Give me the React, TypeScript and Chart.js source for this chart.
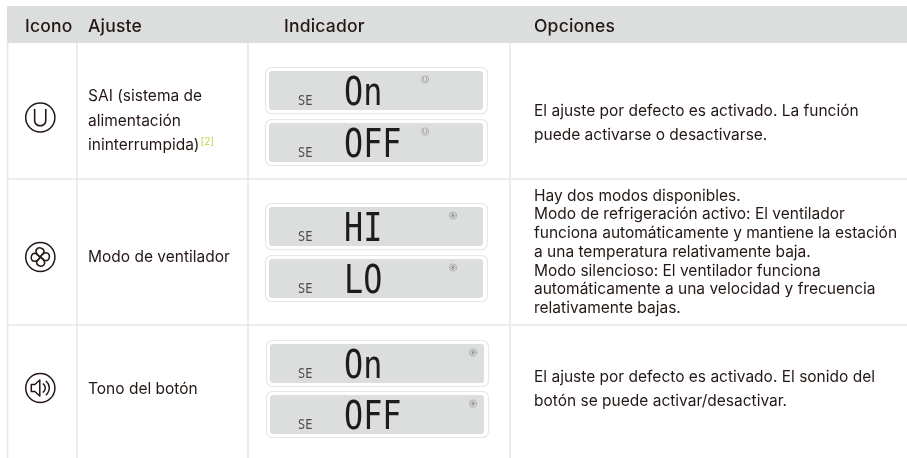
import React, { useEffect, useRef } from "react";
import { Chart, registerables } from "chart.js";

Chart.register(...registerables);

const headers = ["Icono", "Ajuste", "Indicador", "Opciones"];
const settingLines = [
  ["SAI (sistema de", "alimentación", "ininterrumpida)"],
  ["Modo de ventilador"],
  ["Tono del botón"],
];
const footnote = "[2]";
const iconKinds = ["ups", "fan", "sound"];
const displayValues = [
  ["On", "OFF"],
  ["HI", "LO"],
  ["On", "OFF"],
];
const displayPrefix = "SE";
const optionLines = [
  ["El ajuste por defecto es activado. La función", "puede activarse o desactivarse."],
  [
    "Hay dos modos disponibles.",
    "Modo de refrigeración activo: El ventilador",
    "funciona automáticamente y mantiene la estación",
    "a una temperatura relativamente baja.",
    "Modo silencioso: El ventilador funciona",
    "automáticamente a una velocidad y frecuencia",
    "relativamente bajas.",
  ],
  ["El ajuste por defecto es activado. El sonido del", "botón se puede activar/desactivar."],
];

const INK = "#231815";
const RULE = "#e6e7e7";
const BAND = "#dcdddd";

function drawIcon(ctx: CanvasRenderingContext2D, kind: string, cx: number, cy: number, s: number, color: string) {
  ctx.save();
  ctx.translate(cx, cy);
  ctx.scale(s, s);
  ctx.strokeStyle = color;
  ctx.fillStyle = color;
  ctx.lineWidth = 1.5;
  ctx.lineCap = "round";
  ctx.lineJoin = "round";
  ctx.beginPath();
  ctx.arc(0, 0, 14.6, 0, Math.PI * 2);
  ctx.stroke();
  if (kind === "ups") {
    ctx.font = "300 23px Inter";
    ctx.textAlign = "center";
    ctx.textBaseline = "alphabetic";
    ctx.fillText("U", 0, 8.3);
  } else if (kind === "fan") {
    for (let i = 0; i < 4; i++) {
      ctx.save();
      ctx.rotate((i * Math.PI) / 2 + 0.12);
      ctx.beginPath();
      ctx.moveTo(0, 0);
      ctx.bezierCurveTo(-4, -1.5, -6.5, -5.5, -4, -8);
      ctx.bezierCurveTo(-2, -9.8, 2.6, -9.2, 3, -6);
      ctx.bezierCurveTo(3.2, -3.5, 0.8, -2, 0, 0);
      ctx.stroke();
      ctx.restore();
    }
  } else {
    ctx.beginPath();
    ctx.moveTo(-9, -3.5);
    ctx.lineTo(-5.5, -3.5);
    ctx.lineTo(-0.5, -8);
    ctx.lineTo(-0.5, 8);
    ctx.lineTo(-5.5, 3.5);
    ctx.lineTo(-9, 3.5);
    ctx.closePath();
    ctx.stroke();
    ctx.beginPath();
    ctx.arc(0, 0, 5, -0.95, 0.95);
    ctx.stroke();
    ctx.beginPath();
    ctx.arc(0, 0, 9, -0.85, 0.85);
    ctx.stroke();
  }
  ctx.restore();
}

const tablePlugin = {
  id: "tablePlugin",
  afterDraw(chart: any) {
    const ctx: CanvasRenderingContext2D = chart.ctx;
    const X = (v: number) => chart.scales.x.getPixelForValue(v);
    const Y = (v: number) => chart.scales.y.getPixelForValue(v);
    const text = (t: string, x: number, y: number, font: string, color = INK, spacing = "0px") => {
      ctx.font = font;
      ctx.fillStyle = color;
      (ctx as any).letterSpacing = spacing;
      ctx.textAlign = "left";
      ctx.textBaseline = "alphabetic";
      ctx.fillText(t, X(x), Y(y));
    };
    ctx.save();

    ctx.fillStyle = BAND;
    ctx.fillRect(X(7), Y(6), X(907) - X(7), Y(43) - Y(6));

    ctx.strokeStyle = RULE;
    ctx.lineWidth = 1.6;
    [7.6, 77, 248, 510].forEach((x) => {
      ctx.beginPath();
      ctx.moveTo(X(x), Y(43));
      ctx.lineTo(X(x), Y(458));
      ctx.stroke();
    });
    ctx.lineWidth = 1.3;
    [179, 325].forEach((y) => {
      ctx.beginPath();
      ctx.moveTo(X(7), Y(y));
      ctx.lineTo(X(907), Y(y));
      ctx.stroke();
    });

    const headFont = "500 17.5px Inter";
    [25, 88, 284, 534].forEach((x, i) => text(headers[i], x, 32, headFont, INK, "0.2px"));

    const iconY = [117.5, 257, 388];
    iconKinds.forEach((k, i) => drawIcon(ctx, k, X(40.3), Y(iconY[i]), 1, INK));

    const bodyFont = "400 15.5px Inter";
    const spacing = "0px";
    const settingBase = [[101, 126, 150], [262], [394]];
    settingLines.forEach((lines, r) =>
      lines.forEach((l, i) => text(l, 88, settingBase[r][i], bodyFont, INK, spacing))
    );
    ctx.font = bodyFont;
    (ctx as any).letterSpacing = spacing;
    const w = ctx.measureText(settingLines[0][2]).width;
    text(footnote, 88 + w + 1, 145, "400 10px Inter", "#b7d840");

    const optBase = [[116, 140], [200.7, 219.4, 238.1, 256.8, 275.5, 294.2, 313], [382, 406]];
    optionLines.forEach((lines, r) =>
      lines.forEach((l, i) => text(l, 534, optBase[r][i], bodyFont, INK, spacing))
    );

    const panelTop = [[67, 119], [203, 255], [340, 391]];
    const panelLeft = [265, 265, 266];
    const miniX = [425, 453, 473];
    const miniKinds = ["ups", "fan", "fan"];
    panelTop.forEach((tops, r) =>
      tops.forEach((top, j) => {
        const left = panelLeft[r];
        ctx.strokeStyle = RULE;
        ctx.lineWidth = 1.2;
        ctx.beginPath();
        ctx.roundRect(X(left + 0.5), Y(top + 0.5), 222, 46, 6);
        ctx.stroke();
        ctx.fillStyle = BAND;
        ctx.beginPath();
        ctx.roundRect(X(left + 4), Y(top + 4), 214, 39, 3);
        ctx.fill();

        ctx.save();
        ctx.translate(X(298), Y(top + 38));
        ctx.scale(1, 1.2);
        ctx.font = "400 12px 'DejaVu Sans Mono'";
        ctx.fillStyle = "#4a4a4a";
        (ctx as any).letterSpacing = "0px";
        ctx.fillText(displayPrefix, 0, 0);
        ctx.restore();

        ctx.save();
        ctx.translate(X(344), Y(top + 38));
        ctx.scale(1.06, 1.32);
        ctx.font = "400 30px 'DejaVu Sans Mono'";
        ctx.fillStyle = "#1c1c1c";
        (ctx as any).letterSpacing = "0px";
        ctx.fillText(displayValues[r][j], 0, 0);
        ctx.restore();

        drawIcon(ctx, miniKinds[r], X(miniX[r]), Y(top + 12.5), 0.25, "#6f6f6f");
      })
    );
    ctx.restore();
  },
};

export default function App() {
  const ref = useRef<HTMLCanvasElement>(null);
  useEffect(() => {
    const chart = new Chart(ref.current!, {
      type: "scatter",
      data: { datasets: [{ data: [] }] },
      options: {
        animation: false,
        responsive: false,
        devicePixelRatio: 1,
        layout: { padding: 0 },
        plugins: { legend: { display: false }, title: { display: false }, tooltip: { enabled: false } },
        scales: {
          x: { type: "linear", min: 0, max: 907, display: false },
          y: { type: "linear", min: 0, max: 458, reverse: true, display: false },
        },
      },
      plugins: [tablePlugin],
    } as any);
    return () => chart.destroy();
  }, []);
  return (
    <div style={{ position: "absolute", left: 0, top: 0, width: 907, height: 458, background: "#fff" }}>
      <canvas ref={ref} width={907} height={458} style={{ display: "block" }} />
    </div>
  );
}
